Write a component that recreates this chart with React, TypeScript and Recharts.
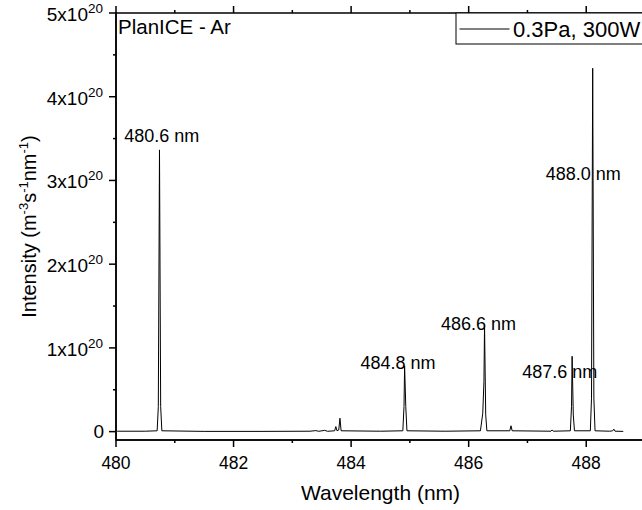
import { Line, LineChart, ReferenceDot, XAxis, YAxis } from "recharts";

// spectrum, intensity in units of 1e20 m^-3 s^-1 nm^-1
const wavelengths = [
    480.02, 480.5, 480.7, 480.72, 480.74, 480.76, 480.78, 481.5, 482.5, 483.3, 483.4, 483.45,
    483.55, 483.6, 483.72, 483.74, 483.76, 483.79, 483.81, 483.83, 484.5, 484.88, 484.9, 484.91,
    484.93, 484.95, 485.6, 486.2, 486.24, 486.26, 486.27, 486.29, 486.31, 486.7, 486.72, 486.74,
    487.4, 487.42, 487.44, 487.73, 487.75, 487.76, 487.78, 487.8, 488.07, 488.09, 488.11, 488.13,
    488.15, 488.4, 488.45, 488.47, 488.49, 488.63,
];
const intensities = [
    0.005, 0.005, 0.01, 0.3, 3.365, 0.3, 0.01, 0.003, 0.003, 0.005, 0.012, 0.004,
    0.015, 0.004, 0.01, 0.06, 0.01, 0.02, 0.16, 0.01, 0.005, 0.01, 0.3, 0.785,
    0.3, 0.01, 0.005, 0.01, 0.22, 0.6, 1.27, 0.2, 0.01, 0.01, 0.07, 0.01,
    0.005, 0.02, 0.005, 0.01, 0.3, 0.9, 0.2, 0.01, 0.01, 0.4, 4.34, 0.4,
    0.01, 0.005, 0.01, 0.03, 0.005, 0.003,
];

const seriesName = "0.3Pa, 300W";
const plotTitle = "PlanICE - Ar";
const xTicks = [480, 481, 482, 483, 484, 485, 486, 487, 488, 489];
const yTicks = [0, 0.5, 1, 1.5, 2, 2.5, 3, 3.5, 4, 4.5, 5];
const yMax = 5;

// peak annotations: text and where its left/baseline sits (nm, 1e20)
const peakLabels = ["480.6 nm", "484.8 nm", "486.6 nm", "487.6 nm", "488.0 nm"];
const peakLabelX = [480.14, 484.16, 485.53, 486.91, 487.31];
const peakLabelY = [3.46, 0.75, 1.215, 0.645, 3.0];

const data = wavelengths.map((w, i) => ({ w, v: intensities[i] }));

// layout
const CHART_W = 660;
const CHART_H = 510;
const MARGIN = { top: 13, right: 15, bottom: 0, left: 0 };
const X_AXIS_H = 70;
const Y_AXIS_W = 116;
const PLOT_W = CHART_W - MARGIN.left - MARGIN.right - Y_AXIS_W;
const PLOT_H = CHART_H - MARGIN.top - MARGIN.bottom - X_AXIS_H;
const LEGEND_FROM_RIGHT = 189;

const FONT = "Arial, 'Liberation Sans', sans-serif";

// bottom tick plus its mirror on the top frame (the top one as a thin filled rect)
const BottomTick = ({ x, y, payload }: any) => {
    const major = payload.value % 2 === 0;
    const len = major ? 7 : 3;
    const top = y - PLOT_H;
    return (
        <g>
            <line x1={x} x2={x} y1={y} y2={y + len} stroke="#000" strokeWidth={1.5} />
            <rect x={x - 0.75} y={top - len} width={1.5} height={len} fill="#000" />
            {major && (
                <text x={x} y={y + 29} textAnchor="middle" fontFamily={FONT} fontSize={17.5} fill="#000">
                    {payload.value}
                </text>
            )}
        </g>
    );
};

// top frame, title and legend box hang off the top y tick
const TopFrame = ({ x, y }: { x: number; y: number }) => {
    const lx = x + PLOT_W - LEGEND_FROM_RIGHT;
    return (
        <g>
            <rect x={x} y={y} width={PLOT_W} height={PLOT_H} fill="none" stroke="#000" strokeWidth={1.5} />
            <text x={x + 2} y={y + 21} fontFamily={FONT} fontSize={20.5} fill="#000">
                {plotTitle}
            </text>
            <rect x={lx} y={y} width={220} height={31} fill="#fff" stroke="#000" strokeWidth={1} />
            <line x1={lx + 3.5} x2={lx + 53.5} y1={y + 16} y2={y + 16} stroke="#000" strokeWidth={1} />
            <text x={lx + 57} y={y + 23.5} fontFamily={FONT} fontSize={22} fill="#000">
                {seriesName}
            </text>
        </g>
    );
};

const LeftTick = ({ x, y, payload }: any) => {
    const v = payload.value;
    const major = Number.isInteger(v);
    return (
        <g>
            <line x1={x - (major ? 7 : 3)} x2={x} y1={y} y2={y} stroke="#000" strokeWidth={1.5} />
            {v === yMax && <TopFrame x={x} y={y} />}
            {major && v === 0 && (
                <text x={x - 12} y={y + 6} textAnchor="end" fontFamily={FONT} fontSize={19} fill="#000">
                    0
                </text>
            )}
            {major && v !== 0 && (
                <text x={x - 13} y={y + 8} textAnchor="end" fontFamily={FONT} fontSize={19} fill="#000">
                    {v}x10
                    <tspan dy={-8} fontSize={13.5}>
                        20
                    </tspan>
                </text>
            )}
        </g>
    );
};

const XTitle = ({ viewBox }: any) => (
    <text
        x={viewBox.x + viewBox.width / 2}
        y={viewBox.y + 60}
        textAnchor="middle"
        fontFamily={FONT}
        fontSize={21}
        fill="#000"
    >
        Wavelength (nm)
    </text>
);

const YTitle = ({ viewBox }: any) => {
    const cx = viewBox.x + 36;
    const cy = viewBox.y + viewBox.height / 2;
    return (
        <text
            x={cx}
            y={cy}
            textAnchor="middle"
            transform={`rotate(-90, ${cx}, ${cy})`}
            fontFamily={FONT}
            fontSize={20}
            fill="#000"
        >
            Intensity (m
            <tspan dy={-8} fontSize={13}>-3</tspan>
            <tspan dy={8}>s</tspan>
            <tspan dy={-8} fontSize={13}>-1</tspan>
            <tspan dy={8}>nm</tspan>
            <tspan dy={-8} fontSize={13}>-1</tspan>
            <tspan dy={8}>)</tspan>
        </text>
    );
};

const PeakText = (text: string) => (props: any) => (
    <text x={props.cx} y={props.cy} fontFamily={FONT} fontSize={18} fill="#000">
        {text}
    </text>
);

export default function App() {
    return (
        <div style={{ position: "absolute", left: 0, top: 0, width: 642, height: 510, overflow: "hidden", background: "#fff" }}>
            <LineChart width={CHART_W} height={CHART_H} data={data} margin={MARGIN}>
                <XAxis
                    dataKey="w"
                    type="number"
                    domain={[480, 489]}
                    ticks={xTicks}
                    interval={0}
                    height={X_AXIS_H}
                    tickSize={0}
                    tickMargin={0}
                    tickLine={false}
                    tick={BottomTick}
                    axisLine={{ stroke: "#000", strokeWidth: 1.5 }}
                    allowDataOverflow
                    label={XTitle}
                />
                <YAxis
                    type="number"
                    domain={[-0.1, yMax]}
                    ticks={yTicks}
                    interval={0}
                    width={Y_AXIS_W}
                    tickSize={0}
                    tickMargin={0}
                    tickLine={false}
                    tick={LeftTick}
                    axisLine={{ stroke: "#000", strokeWidth: 1.5 }}
                    allowDataOverflow
                    label={YTitle}
                />
                <Line
                    type="linear"
                    dataKey="v"
                    name={seriesName}
                    stroke="#000"
                    strokeWidth={1}
                    dot={false}
                    activeDot={false}
                    isAnimationActive={false}
                />
                {peakLabels.map((t, i) => (
                    <ReferenceDot key={t} x={peakLabelX[i]} y={peakLabelY[i]} r={0} shape={PeakText(t)} />
                ))}
            </LineChart>
        </div>
    );
}
